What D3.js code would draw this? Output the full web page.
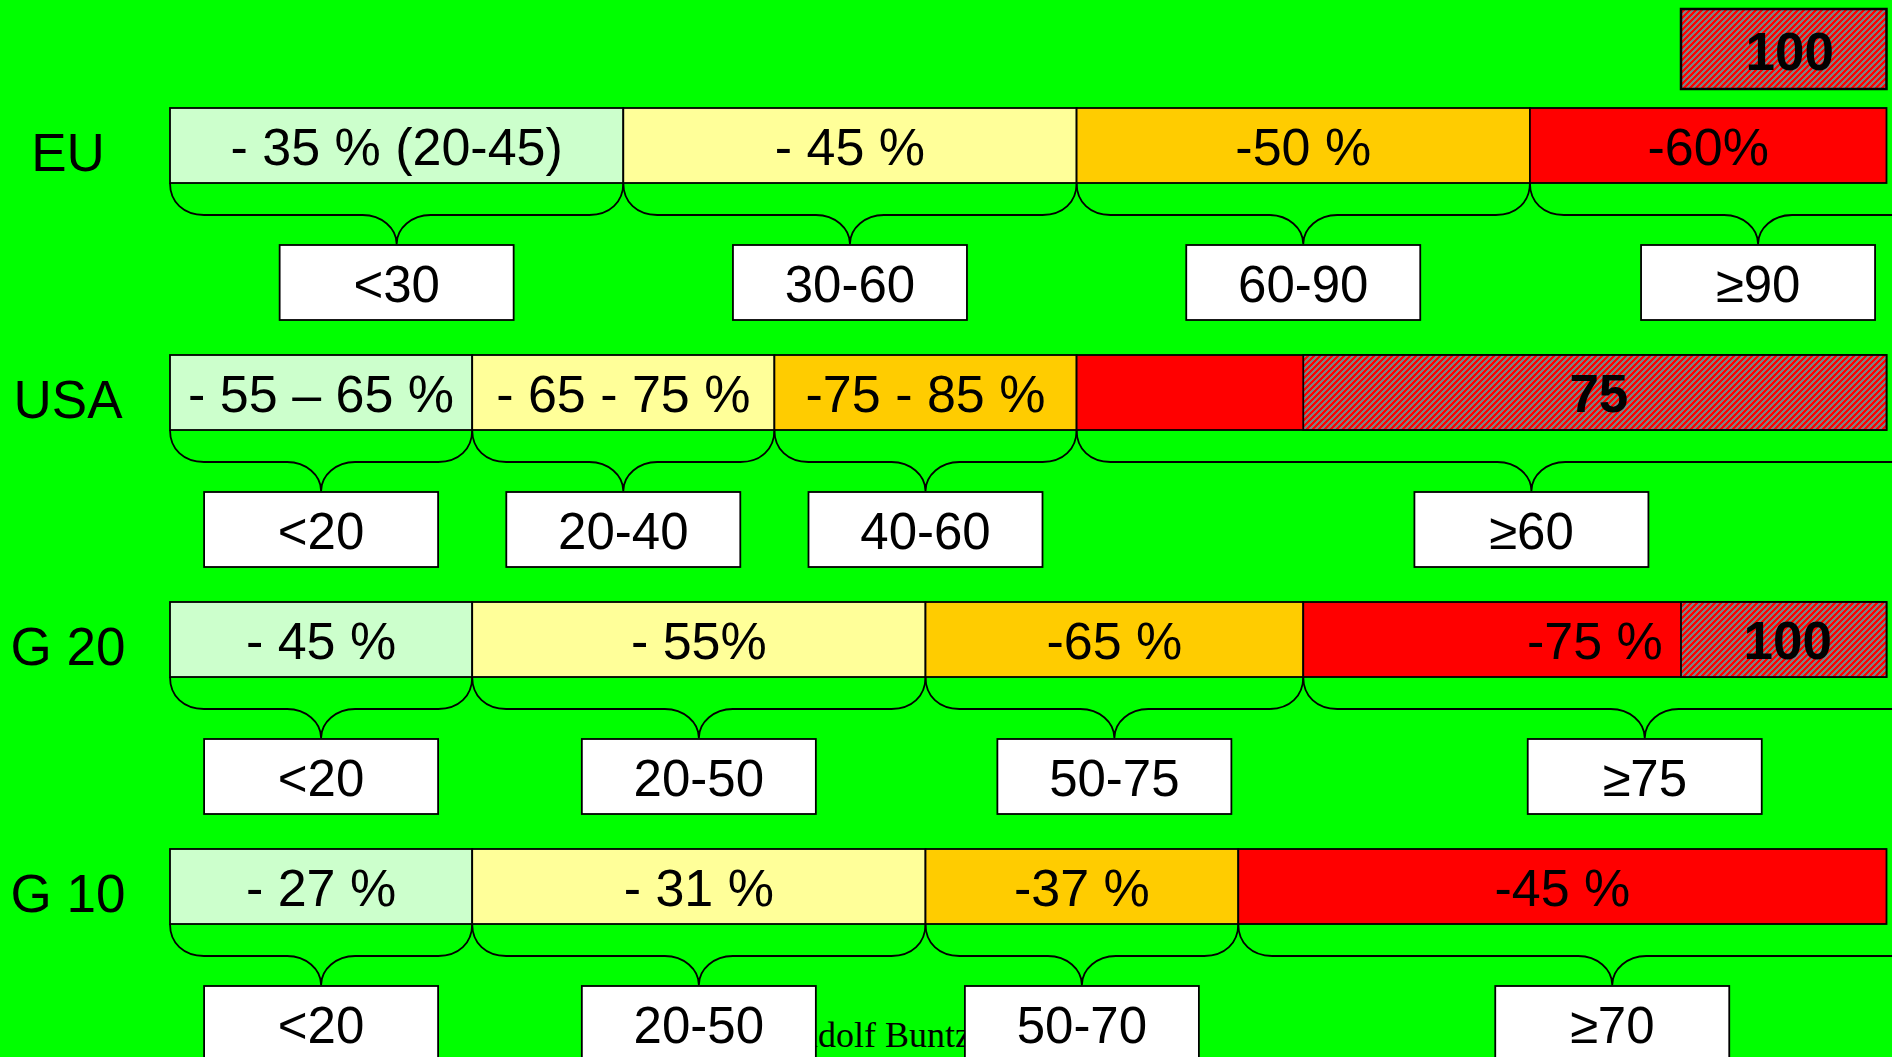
<!DOCTYPE html>
<html>
<head>
<meta charset="utf-8">
<script src="https://cdn.jsdelivr.net/npm/d3@7"></script>
<style>
  body { margin: 0; background: #00ff00; }
  svg { display: block; }
  text { font-family: "Liberation Sans", Arial, sans-serif; }
</style>
</head>
<body>
<svg id="chart" width="1892" height="1057"></svg>
<script>
// rows of the chart
const rows = ["EU", "USA", "G 20", "G 10"];

// segment break points (emission share), one array per row; last one runs past the edge
const END = 113.6;
const euBreaks  = [0, 30, 60, 90, END];
const usaBreaks = [0, 20, 40, 60, END];
const g20Breaks = [0, 20, 50, 75, END];
const g10Breaks = [0, 20, 50, 70.7, END];

// reduction targets written in the segments
const euTargets  = ["- 35 % (20-45)", "- 45 %", "-50 %", "-60%"];
const usaTargets = ["- 55 \u2013 65 %", "- 65 - 75 %", "-75 - 85 %", ""];
const g20Targets = ["- 45 %", "- 55%", "-65 %", "-75 %"];
const g10Targets = ["- 27 %", "- 31 %", "-37 %", "-45 %"];

// ranges in the boxes under the braces
const euRanges  = ["<30", "30-60", "60-90", "\u226590"];
const usaRanges = ["<20", "20-40", "40-60", "\u226560"];
const g20Ranges = ["<20", "20-50", "50-75", "\u226575"];
const g10Ranges = ["<20", "20-50", "50-70", "\u226570"];

// hatched markers (start value, label), null = none
const euMarker  = null;
const usaMarker = [75, "75"];
const g20Marker = [100, "100"];
const g10Marker = null;
const topMarker = [100, "100"];  // box drawn above the EU row

// the last brace of every row goes off the page
const BRACE_END = 120.2;

const breaks  = [euBreaks, usaBreaks, g20Breaks, g10Breaks];
const targets = [euTargets, usaTargets, g20Targets, g10Targets];
const ranges  = [euRanges, usaRanges, g20Ranges, g10Ranges];
const markers = [euMarker, usaMarker, g20Marker, g10Marker];

const segColors = ["#ccffcc", "#ffff99", "#ffcc00", "#ff0000"];

//-----------------------------------------------------------------------------

const svg = d3.select("#chart");
const W = 1892, H = 1057;
const barH = 75;

svg.append("rect").attr("width", W).attr("height", H).attr("fill", "#00ff00");

// gray with red diagonal stripes: a tiny bitmap tile so the pixels stay sharp
const P = 6;
const tile = document.createElement("canvas");
tile.width = P; tile.height = P;
const tctx = tile.getContext("2d");
tctx.fillStyle = "#808080";
tctx.fillRect(0, 0, P, P);
tctx.fillStyle = "#ff0000";
for (let i = 0; i < P; i++) {
  for (let j = 0; j < P; j++) {
    if ((i + j) % P < 3) tctx.fillRect(i, j, 1, 1);
  }
}
const pat = svg.append("defs").append("pattern")
    .attr("id", "hatch")
    .attr("patternUnits", "userSpaceOnUse")
    .attr("width", P).attr("height", P);
pat.append("image")
    .attr("href", tile.toDataURL())
    .attr("width", P).attr("height", P)
    .style("image-rendering", "pixelated");

const x = d3.scaleLinear().domain([0, 100]).range([170, 1681]);
const y = d3.scalePoint().domain(rows).range([108, 849]);

// curly brace below a bar, from xa to xb
function brace(xa, xb, top) {
  const h1 = 32, h2 = 61, r = 34;
  const xm = (xa + xb) / 2, yh = top + h1, yt = top + h2;
  return `M${xa},${top} C${xa},${top + h1 * 0.6} ${xa + r * 0.4},${yh} ${xa + r},${yh}` +
    ` L${xm - r},${yh} C${xm - r * 0.45},${yh} ${xm},${yh + (h2 - h1) * 0.45} ${xm},${yt}` +
    ` C${xm},${yh + (h2 - h1) * 0.45} ${xm + r * 0.45},${yh} ${xm + r},${yh}` +
    ` L${xb - r},${yh} C${xb - r * 0.4},${yh} ${xb},${top + h1 * 0.6} ${xb},${top}`;
}

const boxW = 234, boxH = 75;
const layerBars = svg.append("g");
const layerBraces = svg.append("g");
const layerFoot = svg.append("g");
const layerBoxes = svg.append("g");

rows.forEach((name, i) => {
  const top = y(name);
  const b = breaks[i];
  const segs = d3.range(b.length - 1).map(k => ({
    x0: b[k], x1: b[k + 1], label: targets[i][k], range: ranges[i][k], color: segColors[k]
  }));

  // row name
  layerBars.append("text")
      .attr("x", 68).attr("y", top + 63)
      .attr("text-anchor", "middle")
      .attr("font-size", "53px")
      .text(name);

  const g = layerBars.append("g");
  g.selectAll("rect")
    .data(segs)
    .enter().append("rect")
      .attr("x", d => x(d.x0))
      .attr("y", top)
      .attr("width", d => x(d.x1) - x(d.x0))
      .attr("height", barH)
      .attr("fill", d => d.color)
      .attr("stroke", "#000")
      .attr("stroke-width", 1.8);

  g.selectAll("text")
    .data(segs)
    .enter().append("text")
      .attr("x", d => (x(d.x0) + x(d.x1)) / 2)
      .attr("y", top + 57)
      .attr("text-anchor", "middle")
      .attr("font-size", "52px")
      .text(d => d.label);

  // hatched marker on top of the bar
  const m = markers[i];
  if (m) {
    g.append("rect")
      .attr("x", x(m[0])).attr("y", top)
      .attr("width", x(END) - x(m[0])).attr("height", barH)
      .attr("fill", "url(#hatch)")
      .attr("stroke", "#000").attr("stroke-width", 1.8);
    g.append("text")
      .attr("x", (x(m[0]) + x(END)) / 2 + 4).attr("y", top + 57)
      .attr("text-anchor", "middle")
      .attr("font-size", "53px").attr("font-weight", "bold")
      .text(m[1]);
  }

  // braces and range boxes
  const bottom = top + barH;
  segs.forEach((d, k) => {
    const xa = x(d.x0);
    const xb = k === segs.length - 1 ? x(BRACE_END) : x(d.x1);
    const xm = (xa + xb) / 2;
    layerBraces.append("path")
      .attr("d", brace(xa, xb, bottom))
      .attr("fill", "none")
      .attr("stroke", "#000")
      .attr("stroke-width", 1.8);

    layerBoxes.append("rect")
      .attr("x", xm - boxW / 2).attr("y", bottom + 62)
      .attr("width", boxW).attr("height", boxH)
      .attr("fill", "#fff")
      .attr("stroke", "#000").attr("stroke-width", 1.8);
    layerBoxes.append("text")
      .attr("x", xm).attr("y", bottom + 62 + 57)
      .attr("text-anchor", "middle")
      .attr("font-size", "51px")
      .text(d.range);
  });
});

// hatched box above the EU row
const euTop = y("EU");
svg.append("rect")
    .attr("x", x(topMarker[0])).attr("y", euTop - 99)
    .attr("width", x(END) - x(topMarker[0])).attr("height", 80)
    .attr("fill", "url(#hatch)")
    .attr("stroke", "#000").attr("stroke-width", 2.5);
svg.append("text")
    .attr("x", (x(topMarker[0]) + x(END)) / 2 + 6).attr("y", euTop - 38)
    .attr("text-anchor", "middle")
    .attr("font-size", "53px").attr("font-weight", "bold")
    .text(topMarker[1]);

// author line, mostly hidden behind the boxes
layerFoot.append("text")
    .attr("x", 776).attr("y", 1047)
    .style("font-family", "'Liberation Serif', 'Times New Roman', serif")
    .attr("font-size", "36px")
    .text("Rudolf Buntz");
</script>
</body>
</html>
